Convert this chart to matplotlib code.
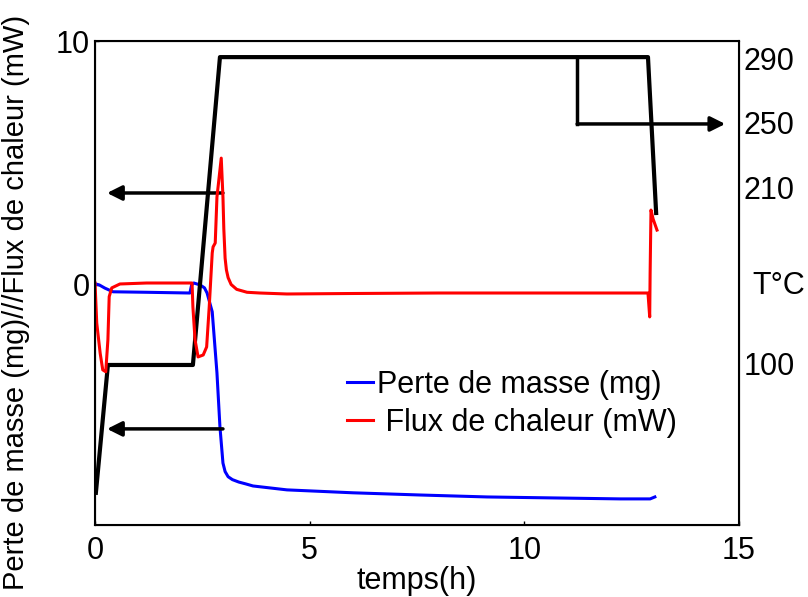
import matplotlib.pyplot as plt
import matplotlib.transforms as mtransforms

plt.rcParams['font.family'] = ['Liberation Sans', 'DejaVu Sans']

# Perte de masse (mg)
t_masse = [0, 0.1, 0.23, 0.42, 1.2, 2.21, 2.25, 2.3, 2.45, 2.55, 2.61, 2.73, 2.84,
           2.91, 2.98, 3.03, 3.1, 3.2, 3.35, 3.5, 3.68, 4.47, 6.01, 7.57, 9.13, 10.67,
           12.23, 12.93, 13.04]
masse = [0.05, 0.0, -0.13, -0.28, -0.3, -0.33, 0.0, 0.08, 0.0, -0.12, -0.33, -1.1, -3.6,
         -5.82, -7.3, -7.65, -7.86, -7.98, -8.08, -8.15, -8.24, -8.4, -8.52, -8.61, -8.69,
         -8.73, -8.77, -8.77, -8.69]

# Flux de chaleur (mW)
t_flux = [0, 0.04, 0.12, 0.18, 0.25, 0.30, 0.33, 0.39, 0.58, 1.2, 2.24, 2.26, 2.28,
          2.33, 2.40, 2.52, 2.60, 2.66, 2.73, 2.75, 2.80, 2.84, 2.94, 2.98, 3.0, 3.03,
          3.06, 3.1, 3.17, 3.3, 3.54, 3.84, 4.47, 6.0, 8.0, 10.0, 12.0, 12.88, 12.92,
          12.93, 12.95, 13.0, 13.09]
flux = [0.08, -1.56, -2.8, -3.48, -3.56, -2.25, -0.48, -0.12, 0.04, 0.08, 0.08, 0.08, -0.9,
        -2.25, -2.95, -2.87, -2.54, -0.9, 1.31, 1.56, 1.72, 3.6, 5.2, 3.6, 2.3, 1.1,
        0.62, 0.3, 0.02, -0.18, -0.3, -0.33, -0.37, -0.35, -0.33, -0.33, -0.33, -0.33,
        -1.31, 0.5, 3.07, 2.7, 2.25]

# temperature programme, drawn in left-axis units
t_temp = [0.02, 0.30, 2.28, 2.91, 12.88, 13.07]
temp = [-8.52, -3.28, -3.28, 9.34, 9.34, 2.95]

# right-hand temperature labels (positions in left-axis units)
temp_pos = [9.3, 6.64, 4.0, -3.24]
temp_labels = ['290', '250', '210', '100']

# arrows: (x_start, x_end, y)
left_arrows = [(2.98, 0.28, 3.77), (2.98, 0.28, -5.9)]
step_x = 11.23
step_y = (9.34, 6.6)
step_end = 14.68

fig = plt.figure(figsize=(8.08, 5.97), dpi=100)
ax = fig.add_axes([0.1176, 0.1206, 0.797, 0.8107])

ax.plot(t_masse, masse, color='blue', lw=2.2, label='Perte de masse (mg)', zorder=3)
ax.plot(t_temp, temp, color='black', lw=3, zorder=4)
ax.plot(t_flux, flux, color='red', lw=2.2, label=' Flux de chaleur (mW)', zorder=5)

arrow_props = dict(arrowstyle='-|>', color='black', lw=2.5, mutation_scale=22,
                   shrinkA=0, shrinkB=0)
for x0, x1, y in left_arrows:
    ax.annotate('', xy=(x1, y), xytext=(x0, y), arrowprops=arrow_props, zorder=4)

ax.plot([step_x, step_x], [step_y[0], step_y[1]], color='black', lw=2.5, zorder=4)
ax.annotate('', xy=(step_end, step_y[1]), xytext=(step_x, step_y[1]),
            arrowprops=arrow_props, zorder=4)

ax.set_xlim(0, 15)
ax.set_ylim(-9.84, 10)
ax.set_xticks([0, 5, 10, 15])
ax.set_yticks([0, 10])
ax.tick_params(labelsize=22, direction='in', length=3, width=1)
ax.tick_params(axis='x', pad=8)
ax.tick_params(axis='y', pad=4)
for s in ax.spines.values():
    s.set_linewidth(1.5)

ax2 = ax.twinx()
ax2.set_ylim(ax.get_ylim())
ax2.set_yticks(temp_pos)
ax2.set_yticklabels(temp_labels)
ax2.tick_params(labelsize=22, length=0, pad=3)

trans = mtransforms.blended_transform_factory(ax.transAxes, ax.transData)
ax.text(1.02, -0.04, 'T°C', transform=trans, fontsize=22, va='center', ha='left')

ax.set_xlabel('temps(h)', fontsize=22, labelpad=0)
ax.set_ylabel('Perte de masse (mg)///Flux de chaleur (mW)', fontsize=21)
ax.yaxis.set_label_coords(-0.101, 0.46)

ax.legend(loc='upper left', bbox_to_anchor=(0.391, 0.32), frameon=False,
          fontsize=22, handlelength=0.85, handletextpad=0.15, labelspacing=0.25,
          borderpad=0, borderaxespad=0)

fig.savefig('out.png', dpi=100)
